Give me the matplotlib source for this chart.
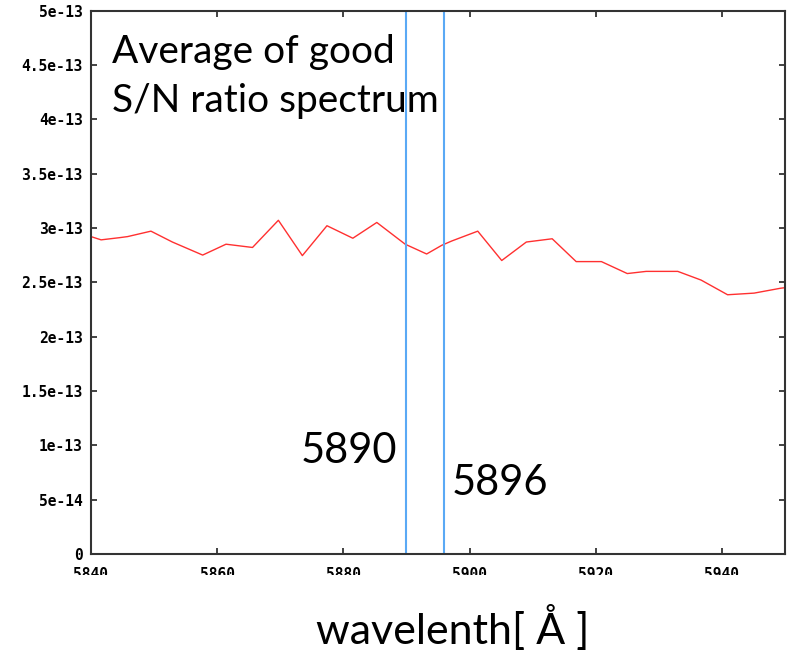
import numpy as np
import matplotlib.pyplot as plt
from matplotlib.patches import Rectangle

# spectrum (wavelength in Angstrom, flux)
wavelength = [5840.0, 5841.6, 5844.5, 5845.8, 5849.5, 5852.9, 5857.7, 5861.4,
              5865.6, 5869.7, 5873.5, 5877.4, 5881.5, 5885.3, 5889.8, 5893.2,
              5895.6, 5897.2, 5901.3, 5905.1, 5909.0, 5913.1, 5916.9, 5920.9,
              5925.0, 5928.0, 5933.0, 5936.7, 5940.9, 5945.1, 5949.3, 5950.0]
flux_e13 = [2.92, 2.89, 2.91, 2.92, 2.97, 2.87, 2.75, 2.85,
            2.82, 3.07, 2.745, 3.02, 2.905, 3.05, 2.85, 2.76,
            2.84, 2.88, 2.97, 2.70, 2.87, 2.90, 2.69, 2.69,
            2.58, 2.60, 2.60, 2.52, 2.385, 2.40, 2.445, 2.45]
flux = np.array(flux_e13) * 1e-13

na_lines = [5890, 5896]
xticks = [5840, 5860, 5880, 5900, 5920, 5940]
yticks = [0, 5e-14, 1e-13, 1.5e-13, 2e-13, 2.5e-13, 3e-13, 3.5e-13, 4e-13, 4.5e-13, 5e-13]
ytick_labels = ["0", "5e-14", "1e-13", "1.5e-13", "2e-13", "2.5e-13",
                "3e-13", "3.5e-13", "4e-13", "4.5e-13", "5e-13"]

fig = plt.figure(figsize=(7.89, 6.51), dpi=100)
ax = fig.add_axes([91 / 789, 1 - 554 / 651, (785 - 91) / 789, (554 - 10.5) / 651])

ax.plot(wavelength, flux, color="#ff3030", lw=1.0)
for w in na_lines:
    ax.axvline(w, color="#5aa9f5", lw=1.5)

ax.set_xlim(5840, 5950)
ax.set_ylim(0, 5e-13)
ax.set_xticks(xticks)
ax.set_yticks(yticks)
ax.set_yticklabels(ytick_labels)
ax.tick_params(direction="in", length=4, width=1.2, top=True, right=True,
               labelsize=10.5, color="#222222")
ax.tick_params(axis="y", pad=6)
ax.tick_params(axis="x", pad=9.5)
for lab in ax.get_xticklabels() + ax.get_yticklabels():
    lab.set_family("DejaVu Sans Mono")
    lab.set_fontweight("bold")
for s in ax.spines.values():
    s.set_linewidth(1.5)
    s.set_color("#333333")

head = dict(family="Lato", fontsize=28, color="black")
num = dict(family="Lato", fontsize=30, color="black")
fig.text(112 / 789, 1 - 63 / 651, "Average of good", va="baseline", **head)
fig.text(112 / 789, 1 - 111.7 / 651, "S/N ratio spectrum", va="baseline", **head)
fig.text(301 / 789, 1 - 462.7 / 651, "5890", va="baseline", **num)
fig.text(452 / 789, 1 - 495 / 651, "5896", va="baseline", **num)

# the x tick labels are cut off at the bottom in the original
fig.patches.append(Rectangle((0, 0), 1, 1 - 575 / 651, transform=fig.transFigure,
                             facecolor="white", edgecolor="none", zorder=1))
fig.text(453 / 789, 1 - 644 / 651, "wavelenth[ Å ]", ha="center", va="baseline",
         zorder=3, family="Lato", fontsize=31, color="black")

fig.savefig("out.png", dpi=100)
